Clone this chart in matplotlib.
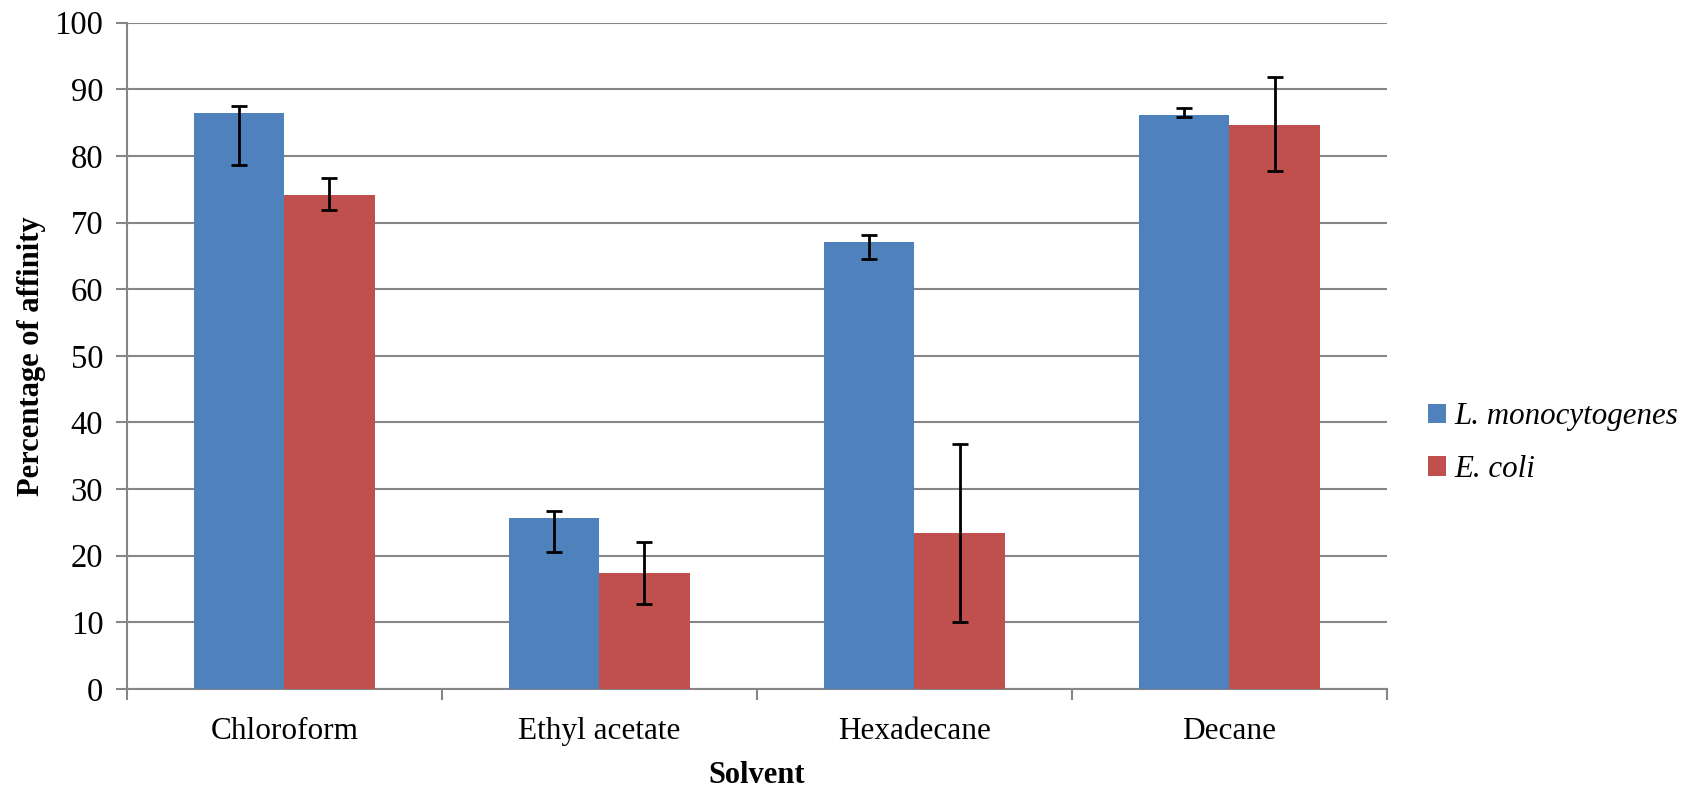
import matplotlib.pyplot as plt
import numpy as np

solvents = ["Chloroform", "Ethyl acetate", "Hexadecane", "Decane"]
series_names = ["L. monocytogenes", "E. coli"]

listeria = [86.5, 25.6, 67.1, 86.2]
listeria_lo = [7.9, 5.1, 2.5, 0.4]
listeria_hi = [1.0, 1.1, 1.1, 1.0]

ecoli = [74.2, 17.4, 23.4, 84.6]
ecoli_lo = [2.3, 4.6, 13.3, 6.9]
ecoli_hi = [2.5, 4.7, 13.4, 7.2]

yticks = list(range(0, 101, 10))

plt.rcParams['font.family'] = ['Liberation Serif', 'DejaVu Serif']

fig = plt.figure(figsize=(16.9, 7.87), dpi=100)
ax = fig.add_axes([0.0751, 0.1245, 0.7456, 0.8468])

x = np.arange(len(solvents))
w = 0.286
grey = '#868686'
err_kw = dict(ecolor='black', elinewidth=2, capsize=6, capthick=2)

ax.bar(x - w / 2, listeria, w, color='#4F81BD', label=series_names[0],
       yerr=[listeria_lo, listeria_hi], error_kw=err_kw, zorder=3)
ax.bar(x + w / 2, ecoli, w, color='#C0504D', label=series_names[1],
       yerr=[ecoli_lo, ecoli_hi], error_kw=err_kw, zorder=3)

ax.set_xlim(-0.5, len(solvents) - 0.5)
ax.set_ylim(0, 100)
ax.set_yticks(yticks)
ax.set_xticks(x)
ax.set_xticklabels(solvents)
ax.set_xticks(np.arange(len(solvents) + 1) - 0.5, minor=True)
ax.tick_params(axis='x', which='major', length=0, labelsize=22.5, pad=20)
ax.tick_params(axis='x', which='minor', length=8, width=1.5, color=grey)
ax.tick_params(axis='y', length=8, width=1.5, color=grey, labelsize=23.5, pad=9)

ax.grid(axis='y', color=grey, linewidth=1.5, zorder=0)
for side in ['top', 'right']:
    ax.spines[side].set_visible(False)
for side in ['left', 'bottom']:
    ax.spines[side].set_color(grey)
    ax.spines[side].set_linewidth(1.5)

ax.set_ylabel("Percentage of affinity", fontsize=22, fontweight='bold', labelpad=6)
ax.set_xlabel("Solvent", fontsize=22, fontweight='bold', labelpad=11)

leg = fig.legend(loc='center left', bbox_to_anchor=(0.832, 0.437), frameon=False,
                 fontsize=22.3, handlelength=0.6, handleheight=0.6, handletextpad=0.25,
                 labelspacing=0.75, borderaxespad=0.3)
for t in leg.get_texts():
    t.set_fontstyle('italic')

fig.savefig('out.png', dpi=100)
